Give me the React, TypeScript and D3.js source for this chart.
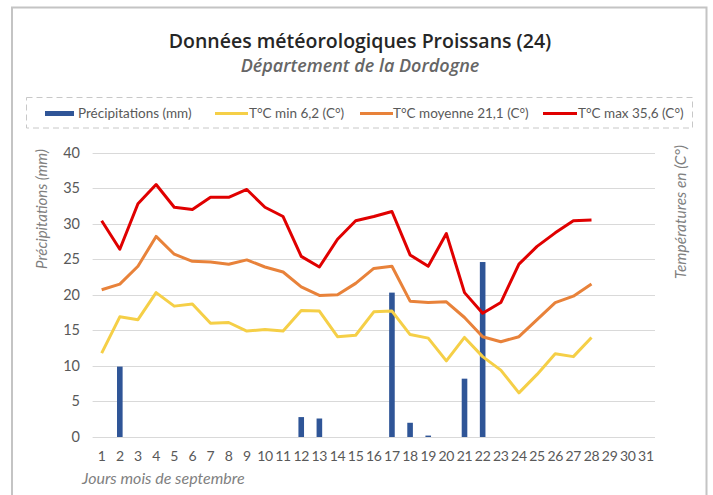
import React from "react";
import * as d3 from "d3";

const days = d3.range(1, 32);
const lineDays = d3.range(1, 29);
const precip = [0, 9.9, 0, 0, 0, 0, 0, 0, 0, 0, 0, 2.8, 2.6, 0, 0, 0, 20.3, 2.0, 0.2, 0, 8.2, 24.6, 0, 0, 0, 0, 0, 0, 0, 0, 0];
const tMin = [11.8, 16.9, 16.5, 20.3, 18.4, 18.7, 16.0, 16.1, 14.9, 15.1, 14.9, 17.8, 17.7, 14.1, 14.3, 17.6, 17.7, 14.4, 13.9, 10.7, 14.0, 11.3, 9.4, 6.2, 8.8, 11.7, 11.3, 14.0];
const tMean = [20.7, 21.5, 24.0, 28.2, 25.7, 24.7, 24.6, 24.3, 24.9, 23.9, 23.2, 21.1, 19.9, 20.0, 21.6, 23.7, 24.0, 19.1, 18.9, 19.0, 16.8, 14.1, 13.4, 14.1, 16.5, 18.9, 19.8, 21.5];
const tMax = [30.4, 26.4, 32.8, 35.5, 32.3, 32.0, 33.7, 33.7, 34.8, 32.3, 31.0, 25.4, 23.9, 27.8, 30.4, 31.0, 31.7, 25.6, 24.0, 28.6, 20.3, 17.4, 18.9, 24.3, 26.8, 28.7, 30.4, 30.5];
const yTicks = [0, 5, 10, 15, 20, 25, 30, 35, 40];

const FONT = "Lato, 'Open Sans', sans-serif";
const TFONT = "'Open Sans', Lato, sans-serif";
const C_BAR = "#2F5597";
const C_MIN = "#F5CF47";
const C_MEAN = "#E8823A";
const C_MAX = "#E00000";

export default function App() {
  const x = d3.scaleBand<number>().domain(days).range([92.6, 655]).padding(0);
  const y = d3.scaleLinear().domain([0, 40]).range([437, 152.5]);
  const cx = (d: number) => (x(d) as number) + x.bandwidth() / 2;
  const line = d3
    .line<number>()
    .x((_, i) => cx(lineDays[i]))
    .y((v) => y(v));
  const barW = 5.6;

  return (
    <svg width={713} height={495} style={{ position: "absolute", left: 0, top: 0, background: "#fff" }}>
      <rect x={0} y={0} width={713} height={495} fill="#fff" />
      {/* outer border */}
      <path d="M12,500 L12,7.5 L706.5,7.5 L706.5,500" fill="none" stroke="#c4c4c4" strokeWidth={2} />
      {/* titles */}
      <text x={360} y={48} textAnchor="middle" fontFamily={TFONT} fontWeight={600} fontSize={19.5} fill="#262626">
        Données météorologiques Proissans (24)
      </text>
      <text x={360} y={72} textAnchor="middle" fontFamily={TFONT} fontStyle="italic" fontWeight={600} fontSize={18} fill="#666">
        Département de la Dordogne
      </text>
      {/* legend */}
      <rect x={26.5} y={97.5} width={666} height={30.5} fill="none" stroke="#c8c8c8" strokeDasharray="6,4" strokeWidth={1} />
      <rect x={45} y={111} width={29} height={5} fill={C_BAR} />
      <text x={78} y={118} fontFamily={FONT} fontSize={13.5} fill="#595959">Précipitations (mm)</text>
      <line x1={215} x2={248} y1={113.5} y2={113.5} stroke={C_MIN} strokeWidth={3} />
      <text x={249} y={118} fontFamily={FONT} fontSize={13.5} fill="#595959">T°C min 6,2 (C°)</text>
      <line x1={360} x2={393} y1={113.5} y2={113.5} stroke={C_MEAN} strokeWidth={3} />
      <text x={393} y={118} fontFamily={FONT} fontSize={13.5} fill="#595959">T°C moyenne 21,1 (C°)</text>
      <line x1={543} x2={577} y1={113.5} y2={113.5} stroke={C_MAX} strokeWidth={3} />
      <text x={578} y={118} fontFamily={FONT} fontSize={13.5} fill="#595959">T°C max 35,6 (C°)</text>
      {/* grid */}
      {yTicks.map((t) => (
        <g key={t}>
          <line x1={92.6} x2={655} y1={Math.round(y(t)) + 0.5} y2={Math.round(y(t)) + 0.5} stroke="#d9d9d9" strokeWidth={1} />
          <text x={80} y={y(t) + 5} textAnchor="end" fontFamily={FONT} fontSize={14.5} fill="#595959">{t}</text>
        </g>
      ))}
      {/* bars */}
      {days.map((d, i) =>
        precip[i] > 0 ? (
          <rect key={d} x={cx(d) - barW / 2} y={y(precip[i])} width={barW} height={y(0) - y(precip[i])} fill={C_BAR} />
        ) : null
      )}
      {/* lines */}
      <path d={line(tMin) as string} fill="none" stroke={C_MIN} strokeWidth={3} strokeLinejoin="round" />
      <path d={line(tMean) as string} fill="none" stroke={C_MEAN} strokeWidth={3} strokeLinejoin="round" />
      <path d={line(tMax) as string} fill="none" stroke={C_MAX} strokeWidth={3} strokeLinejoin="round" />
      {/* x ticks */}
      {days.map((d) => (
        <text key={d} x={cx(d)} y={461} textAnchor="middle" fontFamily={FONT} fontSize={14} letterSpacing={-0.3} fill="#595959">{d}</text>
      ))}
      {/* axis titles */}
      <text x={82} y={484} fontFamily={FONT} fontStyle="italic" fontSize={16} fill="#7f7f7f">Jours mois de septembre</text>
      <text transform="translate(47,209) rotate(-90)" textAnchor="middle" fontFamily={FONT} fontStyle="italic" fontSize={15} fill="#7f7f7f">
        Précipitations (mm)
      </text>
      <text transform="translate(686,212) rotate(-90)" textAnchor="middle" fontFamily={FONT} fontStyle="italic" fontSize={15.5} fill="#7f7f7f">
        Températures en  (C°)
      </text>
    </svg>
  );
}
